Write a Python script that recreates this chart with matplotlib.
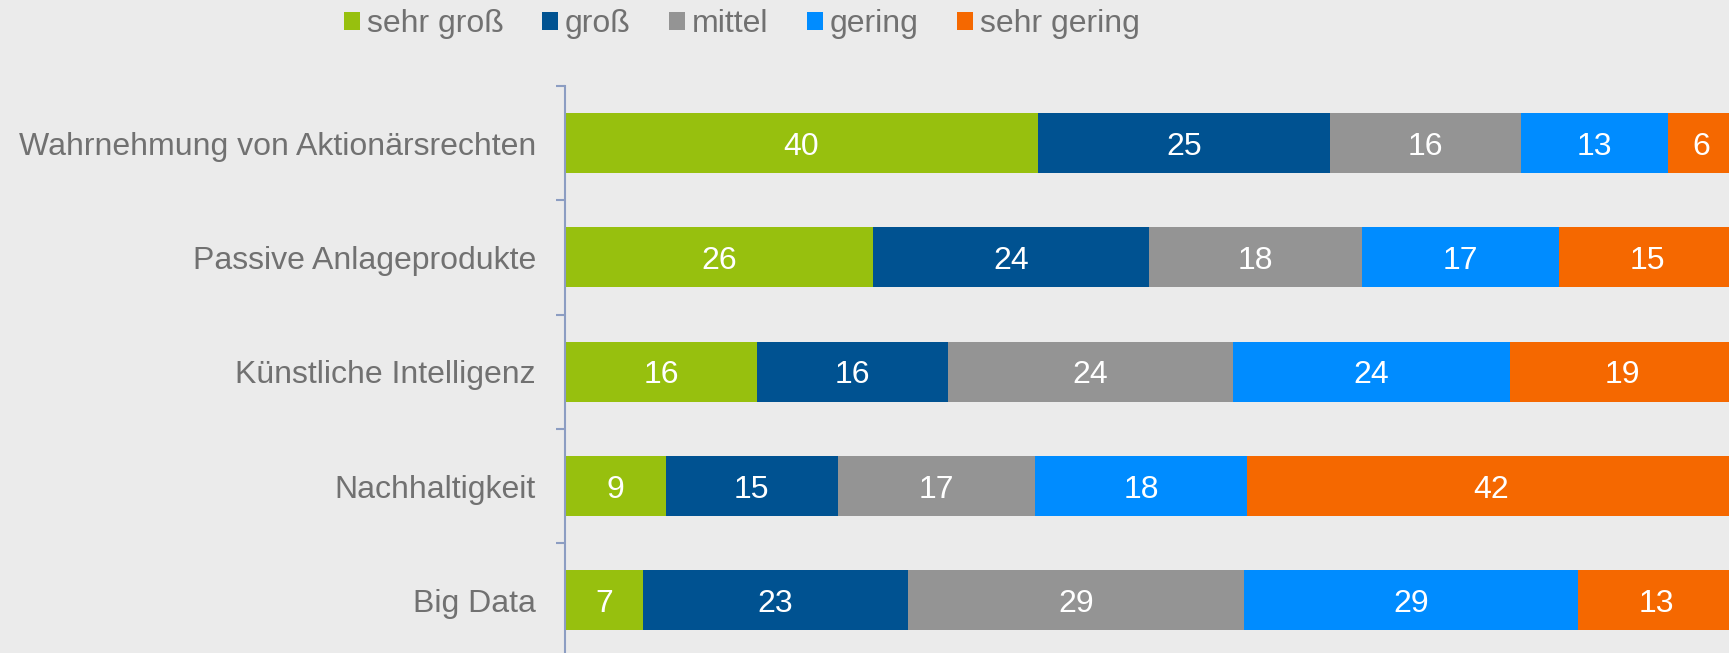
import numpy as np
import matplotlib.pyplot as plt
from matplotlib.patches import Patch

plt.rcParams['font.family'] = ['Liberation Sans', 'DejaVu Sans']

# DATEN (Anteile in %, Beschriftung gerundet)
kategorien = ['Wahrnehmung von Aktionärsrechten', 'Passive Anlageprodukte',
              'Künstliche Intelligenz', 'Nachhaltigkeit', 'Big Data']
serien = ['sehr groß', 'groß', 'mittel', 'gering', 'sehr gering']
sehr_gross = [40.4, 26.3, 16.4, 8.6, 6.7]
gross = [25.0, 23.6, 16.3, 14.7, 22.6]
mittel = [16.3, 18.2, 24.4, 16.9, 28.7]
gering = [12.6, 16.9, 23.7, 18.1, 28.6]
sehr_gering = [5.7, 15.0, 19.2, 41.7, 13.4]
farben = ['#97C00E', '#005291', '#949494', '#008CFF', '#F56800']

werte = [sehr_gross, gross, mittel, gering, sehr_gering]

bg = '#EBEBEB'
grau_text = '#717171'
achse = '#8C9DC2'

fig = plt.figure(figsize=(17.29, 6.53), dpi=100, facecolor=bg)
# Diagrammfläche reicht etwas über den rechten Rand hinaus
ax = fig.add_axes([565/1729, -4.6/653, 1170/1729, (657.6 - 86)/653])
ax.set_facecolor(bg)

y = np.arange(len(kategorien))
links = np.zeros(len(kategorien))
for name, w, c in zip(serien, werte, farben):
    w = np.array(w, dtype=float)
    ax.barh(y, w, left=links, height=0.525, color=c, label=name)
    for yi, li, wi in zip(y, links, w):
        ax.text(li + wi / 2, yi, str(int(round(wi))), ha='center',
                va='center_baseline', color='white', fontsize=23)
    links += w

ax.set_xlim(0, 100)
ax.set_ylim(len(kategorien) - 0.5, -0.5)

# ACHSEN
for s in ['top', 'right', 'bottom']:
    ax.spines[s].set_visible(False)
ax.spines['left'].set_color(achse)
ax.spines['left'].set_linewidth(1.5)
ax.set_xticks([])
ax.set_yticks(y)
ax.set_yticklabels(kategorien, fontsize=23, color=grau_text)
ax.tick_params(axis='y', which='major', length=0, pad=21)
ax.set_yticks(np.arange(-0.5, len(kategorien)), minor=True)
ax.tick_params(axis='y', which='minor', length=6.5, width=1.5, color=achse)

# LEGENDE
handles = [Patch(facecolor=c, edgecolor='none') for c in farben]
fig.legend(handles, serien, loc='center', bbox_to_anchor=(742/1729, 1 - 24/653),
           ncol=5, frameon=False, fontsize=23, labelcolor=grau_text,
           handlelength=0.5, handleheight=0.5, handletextpad=0.22,
           columnspacing=1.2)

fig.savefig('out.png', dpi=100, facecolor=bg)
